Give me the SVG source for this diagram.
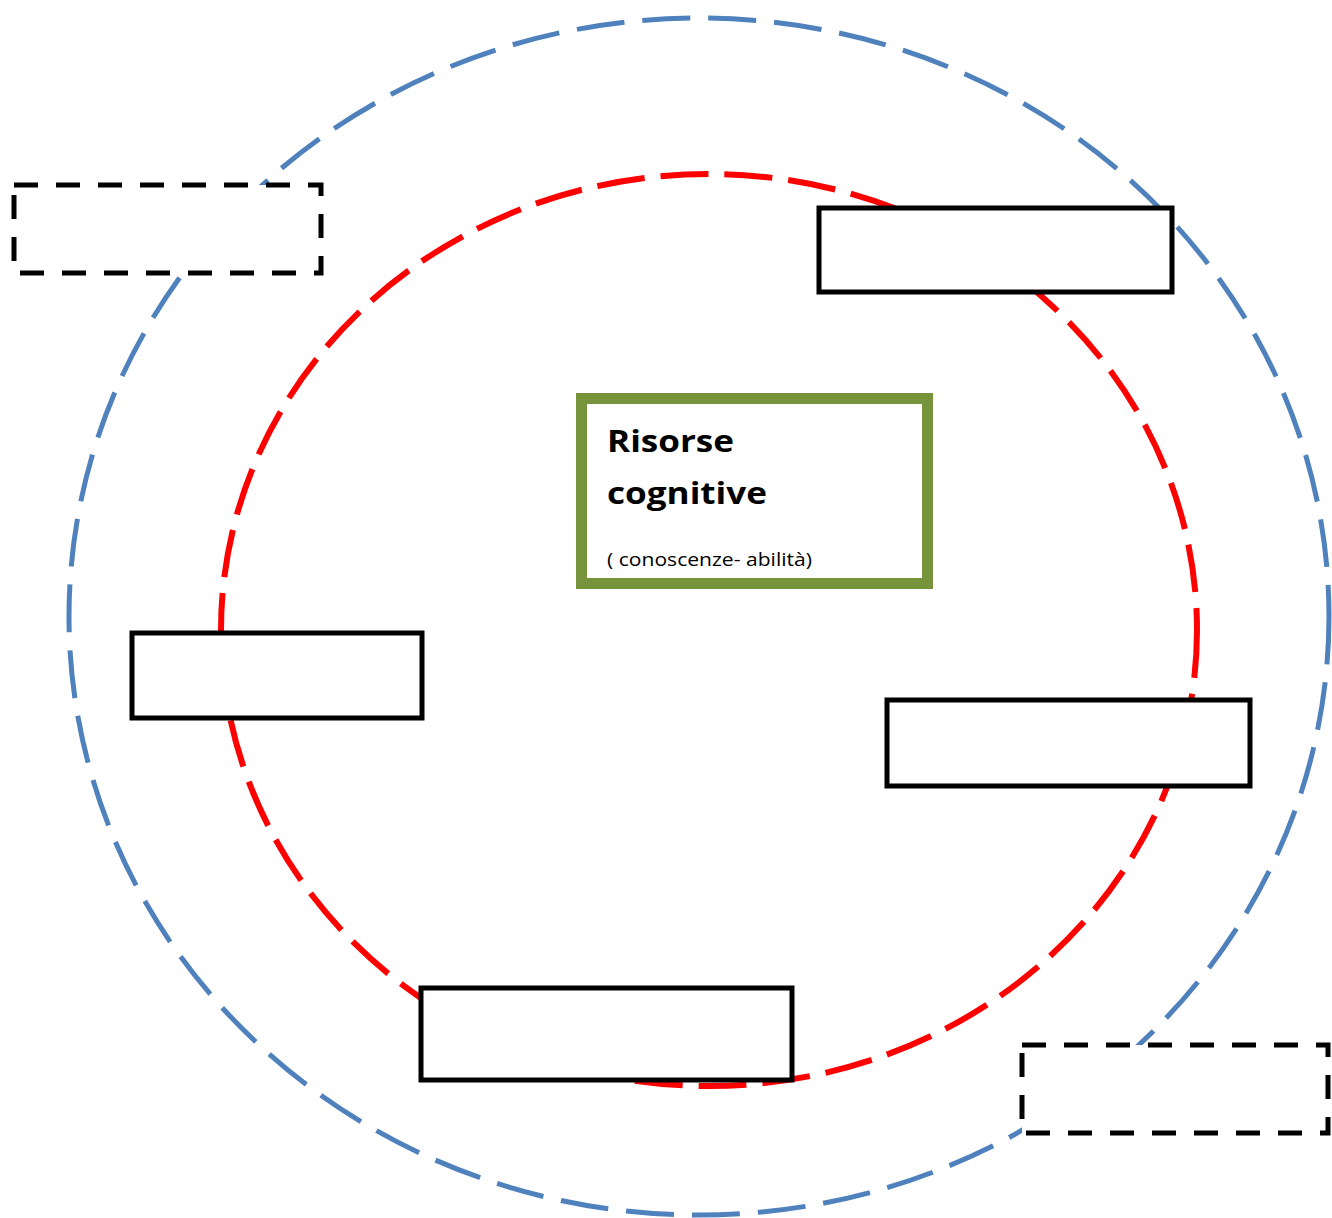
<svg xmlns="http://www.w3.org/2000/svg" width="1332" height="1218" viewBox="0 0 1332 1218">
<style>
.outer{fill:none;stroke:#4F81BD;stroke-width:5;stroke-dasharray:48 18}
.inner{fill:none;stroke:#FF0000;stroke-width:6;stroke-dasharray:48 16}
.box{fill:#FFFFFF;stroke:#000000;stroke-width:5}
.dbox{fill:#FFFFFF;stroke:#000000;stroke-width:5;stroke-dasharray:24 18}
.title{font-family:"Open Sans","Liberation Sans",sans-serif;font-weight:bold;font-size:31px;fill:#000}
.sub{font-family:"Open Sans","Liberation Sans",sans-serif;font-size:18px;fill:#000}
</style>
<rect width="1332" height="1218" fill="#FFFFFF"/>
<g id="outer-ring"><ellipse class="outer" cx="699" cy="616.5" rx="630" ry="598.5"/></g>
<g id="inner-ring"><ellipse class="inner" cx="709" cy="630" rx="488" ry="456"/></g>
<g id="connectors"></g>
<g id="dashed-box-top-left"><rect class="dbox" x="14" y="185" width="307" height="88"/></g>
<g id="dashed-box-bottom-right"><rect class="dbox" x="1022" y="1045" width="306" height="88"/></g>
<g id="box-top-right"><rect class="box" x="819" y="208" width="353" height="84"/></g>
<g id="box-left"><rect class="box" x="132" y="633" width="290" height="85"/></g>
<g id="box-right"><rect class="box" x="887" y="700" width="363" height="86"/></g>
<g id="box-bottom"><rect class="box" x="421" y="988" width="371" height="92"/></g>
<g id="center">
<rect x="581.5" y="398.5" width="346" height="185" fill="#FFFFFF" stroke="#77933C" stroke-width="11"/>
<text class="title" x="607" y="452" textLength="127" lengthAdjust="spacingAndGlyphs">Risorse</text>
<text class="title" x="607" y="504" textLength="160" lengthAdjust="spacingAndGlyphs">cognitive</text>
<text class="sub" x="607" y="566" textLength="205" lengthAdjust="spacingAndGlyphs">( conoscenze- abilità)</text>
</g>
</svg>
